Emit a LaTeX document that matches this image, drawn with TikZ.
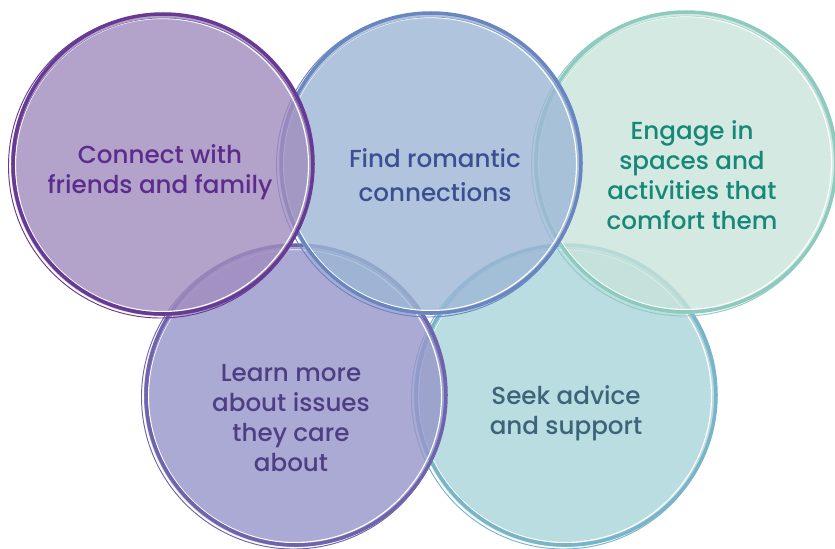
\documentclass[tikz,border=0pt]{standalone}
\usepackage{fontspec}
\setmainfont{Poppins}[UprightFont=* Medium]

\begin{document}
\begin{tikzpicture}[x=0.03cm, y=-0.03cm,
	label/.style={align=center, font=\fontsize{21}{25.6}\selectfont}]
	\definecolor{friendsFill}{RGB}{160,140,190}
	\definecolor{friendsEdge}{RGB}{103,58,148}
	\definecolor{friendsInk}{RGB}{91,44,140}
	\definecolor{romanceFill}{RGB}{156,183,213}
	\definecolor{romanceEdge}{RGB}{106,134,192}
	\definecolor{romanceInk}{RGB}{59,79,146}
	\definecolor{engageFill}{RGB}{200,228,219}
	\definecolor{engageEdge}{RGB}{142,203,190}
	\definecolor{engageInk}{RGB}{23,136,119}
	\definecolor{learnFill}{RGB}{149,149,201}
	\definecolor{learnEdge}{RGB}{111,99,172}
	\definecolor{learnInk}{RGB}{78,63,132}
	\definecolor{seekFill}{RGB}{169,213,218}
	\definecolor{seekEdge}{RGB}{122,180,201}
	\definecolor{seekInk}{RGB}{61,100,121}
	\useasboundingbox (0,0) rectangle (835,548);
	% bubbles, the lower row first so the upper row lies on top
	\foreach \name/\cx/\cy in {seek/565/396, learn/295/396, engage/685/163, romance/430/164, friends/162/165} {
		\coordinate (\name) at (\cx, \cy);
		\fill[\name Fill, fill opacity=.8] (\name) circle[radius=151];
		\draw[white, line width=1pt] (\name) circle[radius=146.5];
		\draw[\name Edge, line width=3pt] ([shift={(1,-1)}]\name) circle[radius=150];
		\draw[\name Edge, line width=.8pt] ([shift={(-1.5,1)}]\name) circle[radius=152];
		\draw[\name Edge, line width=.6pt, opacity=.7] ([shift={(1,1.5)}]\name) circle[radius=148.5];
	}
	\node[label, text=friendsInk] (friendsText) at (160, 172) {Connect with\\friends and family};
	\node[label, text=romanceInk, font=\fontsize{21}{29.5}\selectfont] (romanceText) at (435, 175) {Find romantic\\connections};
	\node[label, text=engageInk] (engageText) at (692, 175) {Engage in\\spaces and\\activities that\\comfort them};
	\node[label, text=learnInk] (learnText) at (291, 418) {Learn more\\about issues\\they care\\about};
	\node[label, text=seekInk] (seekText) at (566, 413) {Seek advice\\and support};
\end{tikzpicture}
\end{document}
